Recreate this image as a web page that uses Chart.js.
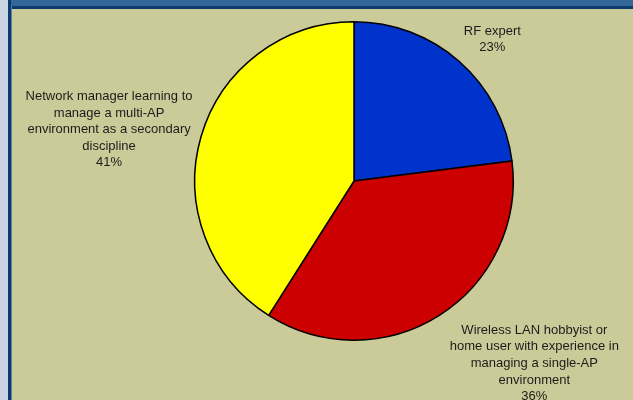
<!DOCTYPE html>
<html>
<head>
<meta charset="utf-8">
<script src="https://cdn.jsdelivr.net/npm/chart.js@4/dist/chart.umd.min.js"></script>
<style>
    html, body { margin: 0; padding: 0; }
    body { width: 633px; height: 400px; position: relative; overflow: hidden; background: #cbcb99; }
    #leftStrip { position: absolute; left: 0; top: 0; width: 8px; height: 400px; background: #c9d3e2; }
    #leftBorder { position: absolute; left: 8px; top: 0; width: 3px; height: 400px; background: #0d3b6e; }
    #leftInner { position: absolute; left: 11px; top: 6px; width: 1px; height: 394px; background: #5c7fa8; }
    #titleBar { position: absolute; left: 11px; top: 0; right: 0; height: 6px; background: #336699; }
    #titleLine { position: absolute; left: 11px; top: 6px; right: 0; height: 3px; background: #0d3b6e; }
    canvas { position: absolute; left: 0; top: 0; }
</style>
</head>
<body>
<div id="leftStrip"></div>
<div id="titleBar"></div>
<div id="titleLine"></div>
<div id="leftBorder"></div>
<div id="leftInner"></div>
<canvas id="pieChart" width="633" height="400"></canvas>

<script>
// Catégories (une ligne de texte par élément) et pourcentages
const categoryLines = [
    ["RF expert"],
    ["Wireless LAN hobbyist or", "home user with experience in", "managing a single-AP", "environment"],
    ["Network manager learning to", "manage a multi-AP", "environment as a secondary", "discipline"],
];
const categories = categoryLines.map(lines => lines.join(" "));
const shares = [23, 36, 41];
const sliceColors = ["#0033cc", "#cc0000", "#ffff00"];

// Décalage de chaque étiquette par rapport au bord de sa part
const labelOffsets = [[33, -22], [95, 48], [-92, -7]];

// Étiquettes à l'extérieur du camembert : nom + pourcentage
const outsideLabels = {
    id: "outsideLabels",
    afterDraw(chart) {
        const ctx = chart.ctx;
        const meta = chart.getDatasetMeta(0);
        ctx.save();
        ctx.font = "13px 'Liberation Sans', Arial, sans-serif";
        ctx.fillStyle = "#1c1c1c";
        ctx.textAlign = "center";
        ctx.textBaseline = "middle";
        const lineHeight = 16.6;
        meta.data.forEach((arc, i) => {
            const mid = (arc.startAngle + arc.endAngle) / 2;
            const ax = arc.x + Math.cos(mid) * arc.outerRadius + labelOffsets[i][0];
            const ay = arc.y + Math.sin(mid) * arc.outerRadius + labelOffsets[i][1];
            const lines = categoryLines[i].concat([shares[i] + "%"]);
            const top = ay - (lines.length - 1) * lineHeight / 2;
            lines.forEach((line, k) => ctx.fillText(line, ax, top + k * lineHeight));
        });
        ctx.restore();
    },
};

const ctx = document.getElementById("pieChart").getContext("2d");
new Chart(ctx, {
    type: "pie",
    data: {
        labels: categories,
        datasets: [
            {
                data: shares,
                backgroundColor: sliceColors,
                borderColor: "#000000",
                borderWidth: 1.5,
            },
        ],
    },
    options: {
        responsive: false,
        animation: false,
        layout: { padding: { left: 194, right: 119, top: 21, bottom: 59 } },
        plugins: {
            legend: { display: false },
            tooltip: { enabled: false },
        },
    },
    plugins: [outsideLabels],
});
</script>
</body>
</html>
